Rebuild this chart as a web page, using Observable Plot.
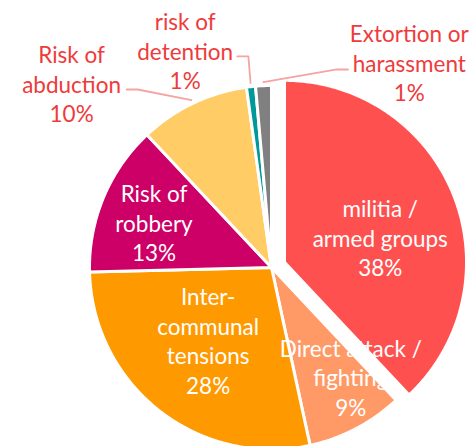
<!DOCTYPE html>
<html>
<head>
<meta charset="utf-8">
<script src="https://cdn.jsdelivr.net/npm/d3@7"></script>
<script src="https://cdn.jsdelivr.net/npm/@observablehq/plot@0.6"></script>
<style>
  html, body { margin: 0; padding: 0; background: #fff; }
  #chart svg { display: block; }
</style>
</head>
<body>
<div id="chart"></div>
<script>
// ---- DATA ----
const categories = ["militia / armed groups", "Direct attack / fighting", "Inter-communal tensions", "Risk of robbery", "Risk of abduction", "risk of detention", "Extortion or harassment"];
const values = [38.0, 8.6, 28.0, 13.4, 9.8, 0.8, 1.4];
const labelNames = ["militia /\narmed groups", "Direct attack /\nfighting", "Inter-\ncommunal\ntensions", "Risk of\nrobbery", "Risk of\nabduction", "risk of\ndetention", "Extortion or\nharassment"];
const colors = ["#FF5050", "#FF9966", "#FF9900", "#CC0066", "#FFCC66", "#009999", "#808080"];

// ---- LAYOUT ----
const W = 471, H = 446;
const CX = 271, CY = 267, RPX = 182;           // pie centre and radius in px
const explodeBy = [14 / RPX, 0, 0, 0, 0, 0, 0]; // slice pull-out (radius units)
const inside = [true, true, true, true, false, false, false];
// label placement: polar radius and turn (deg) from the slice bisector
const labelR = [0.62, 0.743, 0.529, 0.692, 1.493, 1.284, 1.358];
const labelTurn = [6.1, -8.2, 3.0, -1.6, -21.8, -15.2, 36.4];
// leader lines for outside labels: [text end, elbow] in radius units
const leaders = {
  4: [[-0.796, 0.978], [-0.735, 0.978]],
  5: [[-0.188, 1.160], [-0.127, 1.160]],
  6: [[0.420, 1.088], [0.359, 1.088]]
};

const rad = d => d * Math.PI / 180;
const arcs = d3.pie().sort(null).value(d => d)(values);

const polys = [];
arcs.forEach((p, i) => {
  const k = categories[i];
  const mid = (p.startAngle + p.endAngle) / 2;
  const ox = explodeBy[i] * Math.sin(mid), oy = explodeBy[i] * Math.cos(mid);
  polys.push({k, x: ox, y: oy});
  const n = Math.max(2, Math.ceil((p.endAngle - p.startAngle) / (Math.PI / 360)));
  for (let j = 0; j <= n; j++) {
    const a = p.startAngle + (p.endAngle - p.startAngle) * j / n;
    polys.push({k, x: ox + Math.sin(a), y: oy + Math.cos(a)});
  }
});

const labels = arcs.map((p, i) => {
  const mid = (p.startAngle + p.endAngle) / 2 + rad(labelTurn[i]);
  return {
    text: labelNames[i] + "\n" + Math.round(values[i]) + "%",
    x: labelR[i] * Math.sin(mid),
    y: labelR[i] * Math.cos(mid),
    inside: inside[i]
  };
});

const leaderPts = [];
Object.entries(leaders).forEach(([i, pts]) => {
  const p = arcs[i];
  const mid = (p.startAngle + p.endAngle) / 2;
  pts.forEach(([x, y]) => leaderPts.push({k: i, x, y}));
  leaderPts.push({k: i, x: 1.02 * Math.sin(mid), y: 1.02 * Math.cos(mid)});
});

const font = "Lato, 'Open Sans', sans-serif";
const chart = Plot.plot({
  width: W,
  height: H,
  margin: 0,
  x: {domain: [-CX / RPX, (W - CX) / RPX], axis: null},
  y: {domain: [-(H - CY) / RPX, CY / RPX], axis: null},
  color: {domain: categories, range: colors},
  style: {background: "#fff", fontFamily: font},
  marks: [
    Plot.line(polys, {x: "x", y: "y", z: "k", fill: "k", stroke: "white", strokeWidth: 3, strokeLinejoin: "round", curve: "linear-closed"}),
    Plot.line(leaderPts, {x: "x", y: "y", z: "k", stroke: "#F5A3A3", strokeWidth: 1.8}),
    Plot.text(labels.filter(d => d.inside), {x: "x", y: "y", text: "text", fill: "white", fontSize: 22.5, lineHeight: 1.31, fontFamily: font}),
    Plot.text(labels.filter(d => !d.inside), {x: "x", y: "y", text: "text", fill: "#EE3B3B", fontSize: 22.5, lineHeight: 1.31, fontFamily: font})
  ]
});
document.getElementById("chart").append(chart);
</script>
</body>
</html>
